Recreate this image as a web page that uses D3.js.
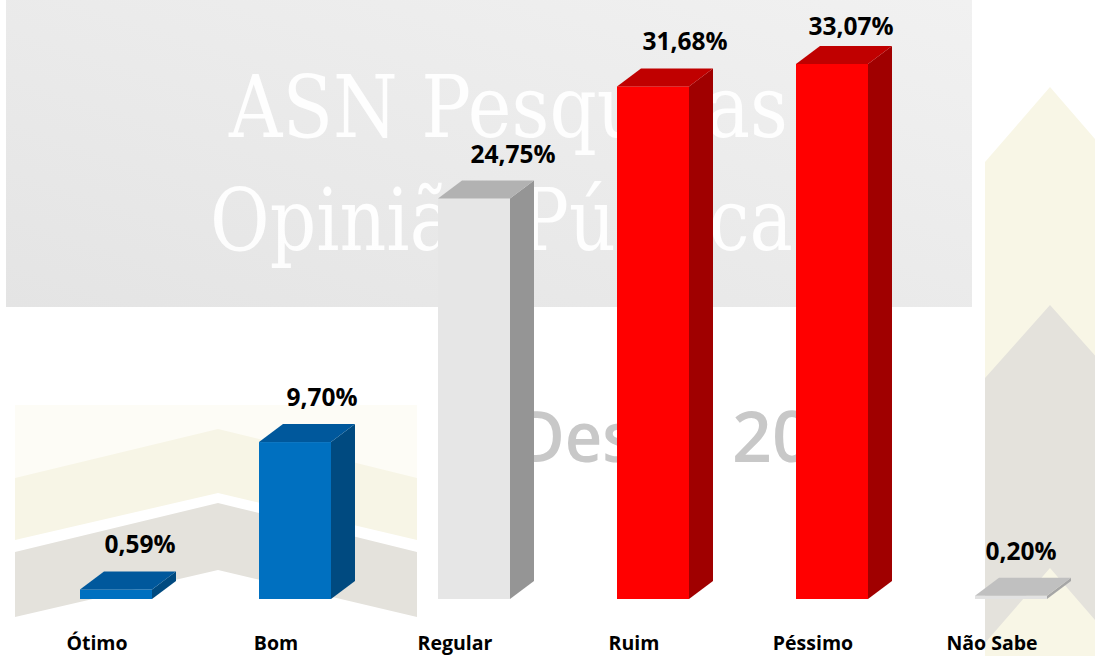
<!DOCTYPE html>
<html><head><meta charset="utf-8">
<script src="https://cdn.jsdelivr.net/npm/d3@7"></script>
<style>html,body{margin:0;padding:0;background:#fff;overflow:hidden}</style>
</head><body>
<svg id="c" width="1095" height="656"></svg>
<script>
const categories = ["Ótimo", "Bom", "Regular", "Ruim", "Péssimo", "Não Sabe"];
const values = [0.59, 9.70, 24.75, 31.68, 33.07, 0.20];
const valueLabels = ["0,59%", "9,70%", "24,75%", "31,68%", "33,07%", "0,20%"];
const frontColors = ["#0070c0", "#0070c0", "#e6e6e6", "#ff0000", "#ff0000", "#e2e2e2"];
const topColors = ["#00589c", "#00589c", "#b2b2b2", "#c00000", "#c00000", "#c0c0c0"];
const sideColors = ["#004a80", "#004a80", "#959595", "#a00000", "#a00000", "#a6a6a6"];
const labelNudge = [24, 27, 39, 32, 19, 10];

const W = 1095, H = 656;
const svg = d3.select("#c");
const defs = svg.append("defs");
const g1 = defs.append("linearGradient").attr("id", "bgG").attr("x1", 0).attr("y1", 1).attr("x2", 1).attr("y2", 0);
g1.append("stop").attr("offset", 0).attr("stop-color", "#e4e4e4");
g1.append("stop").attr("offset", 1).attr("stop-color", "#f1f1f1");

// background decorations
const bg = svg.append("g");
bg.append("rect").attr("x", 6).attr("y", 0).attr("width", 966).attr("height", 307).attr("fill", "url(#bgG)");
bg.append("text").attr("x", 229).attr("y", 137).attr("font-family", "DejaVu Serif").attr("font-size", 86)
  .attr("fill", "#ffffff").attr("fill-opacity", 0.92).attr("textLength", 559).attr("lengthAdjust", "spacingAndGlyphs")
  .text("ASN Pesquisas");
bg.append("text").attr("x", 210).attr("y", 250).attr("font-family", "DejaVu Serif").attr("font-size", 86)
  .attr("fill", "#ffffff").attr("fill-opacity", 0.92).attr("textLength", 583).attr("lengthAdjust", "spacingAndGlyphs")
  .text("Opinião Pública");
// left chevrons
bg.append("rect").attr("x", 15).attr("y", 405).attr("width", 402).attr("height", 75).attr("fill", "#fdfcf6");
bg.append("path").attr("d", "M15,478 L218,429 L417,478 L417,540 L218,493 L15,540 Z").attr("fill", "#f7f5e6");
bg.append("path").attr("d", "M15,552 L218,503 L417,552 L417,617 L218,570 L15,617 Z").attr("fill", "#e4e2dc");
// right chevrons
bg.append("path").attr("d", "M985,162 L1050,87 L1115,162 L1115,656 L985,656 Z").attr("fill", "#f8f6e6");
bg.append("path").attr("d", "M985,378 L1050,305 L1115,378 L1115,643 L1050,568 L985,643 Z").attr("fill", "#e4e2dc");
// "Desde" watermark
const wm = bg.append("text").attr("y", 462)
  .attr("font-family", "Open Sans").attr("font-weight", 600)
  .attr("font-size", 70).attr("fill", "#c8c8c8");
wm.append("tspan").attr("x", 517).attr("textLength", 195).attr("lengthAdjust", "spacingAndGlyphs").text("Desde");
wm.append("tspan").attr("x", 732).attr("textLength", 80).attr("lengthAdjust", "spacingAndGlyphs").text("20");

// scales
const x = d3.scalePoint().domain(categories).range([116, 1011]);
const y = d3.scaleLinear().domain([0, 35]).range([599, 32.7]);
const bw = 72, dx = 24, dy = 18;

const bars = svg.append("g").selectAll("g").data(categories).join("g");
bars.each(function (c, i) {
  const gsel = d3.select(this);
  const xl = x(c) - bw / 2, xr = x(c) + bw / 2;
  const yt = y(values[i]), yb = y(0);
  gsel.append("path").attr("d", `M${xr},${yb} L${xr},${yt} L${xr + dx},${yt - dy} L${xr + dx},${yb - dy} Z`)
    .attr("fill", sideColors[i]);
  gsel.append("rect").attr("x", xl).attr("y", yt).attr("width", bw).attr("height", Math.max(1, yb - yt))
    .attr("fill", frontColors[i]);
  gsel.append("path").attr("d", `M${xl},${yt} L${xl + dx},${yt - dy} L${xr + dx},${yt - dy} L${xr},${yt} Z`)
    .attr("fill", topColors[i]);
});

// value labels
svg.append("g").selectAll("text").data(categories).join("text")
  .attr("x", (c, i) => x(c) + labelNudge[i])
  .attr("y", (c, i) => Math.max(35, y(values[i]) - dy - 18))
  .attr("text-anchor", "middle").attr("font-family", "Open Sans").attr("font-weight", "bold")
  .attr("font-size", 24.5).attr("fill", "#000").text((c, i) => valueLabels[i]);

// category axis labels
svg.append("g").selectAll("text").data(categories).join("text")
  .attr("x", c => x(c) - 19).attr("y", 650)
  .attr("text-anchor", "middle").attr("font-family", "Open Sans").attr("font-weight", "bold")
  .attr("font-size", 19.5).attr("fill", "#000").text(c => c);
</script>
</body></html>
